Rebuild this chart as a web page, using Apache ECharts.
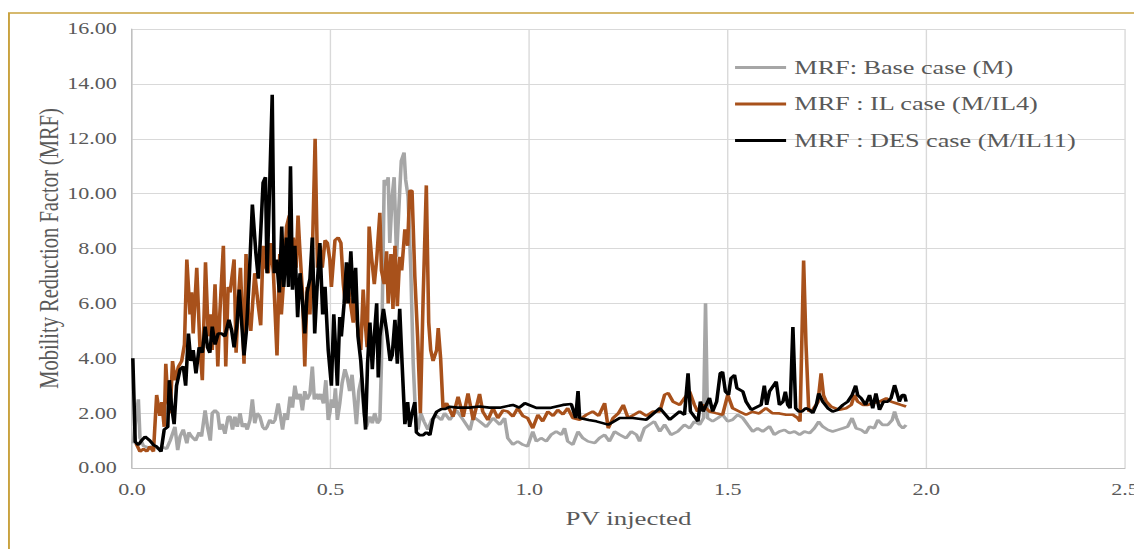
<!DOCTYPE html>
<html>
<head>
<meta charset="utf-8">
<script src="https://cdn.jsdelivr.net/npm/echarts@6/dist/echarts.min.js"></script>
<style>
  html, body { margin: 0; padding: 0; background: #fff; overflow: hidden; }
  /* the original picture is an office chart stretched sideways, so draw it narrow and widen it */
  #chart { width: 822px; height: 549px; transform: scaleX(1.3796); transform-origin: 0 0; }
</style>
</head>
<body>
<div id="chart"></div>
<script>
const seriesNames = ['MRF: Base case (M)', 'MRF : IL case (M/IL4)', 'MRF : DES case (M/IL11)']
const xTicks = ['0.0', '0.5', '1.0', '1.5', '2.0', '2.5']
const yTicks = ['0.00', '2.00', '4.00', '6.00', '8.00', '10.00', '12.00', '14.00', '16.00']

// base case (grey)
const baseX = [0.003, 0.009, 0.016, 0.020, 0.029, 0.041, 0.054, 0.066, 0.079, 0.087, 0.096, 0.108, 0.115, 0.121, 0.129, 0.138, 0.143, 0.150, 0.160, 0.169,
  0.175, 0.184, 0.190, 0.197, 0.202, 0.209, 0.216, 0.221, 0.227, 0.234, 0.242, 0.247, 0.253, 0.259, 0.265, 0.272, 0.278, 0.284, 0.290, 0.297,
  0.303, 0.309, 0.315, 0.322, 0.329, 0.335, 0.340, 0.347, 0.354, 0.360, 0.368, 0.374, 0.379, 0.385, 0.391, 0.398, 0.404, 0.410, 0.416, 0.423,
  0.429, 0.435, 0.441, 0.448, 0.454, 0.459, 0.465, 0.470, 0.475, 0.482, 0.488, 0.494, 0.498, 0.502, 0.508, 0.512, 0.517, 0.523, 0.529, 0.536,
  0.542, 0.548, 0.554, 0.559, 0.565, 0.571, 0.578, 0.584, 0.590, 0.599, 0.605, 0.611, 0.618, 0.624, 0.628, 0.635, 0.641, 0.645, 0.649, 0.655,
  0.660, 0.666, 0.674, 0.678, 0.685, 0.689, 0.695, 0.702, 0.708, 0.714, 0.720, 0.727, 0.735, 0.745, 0.754, 0.767, 0.779, 0.787, 0.800, 0.817,
  0.834, 0.851, 0.859, 0.875, 0.892, 0.909, 0.926, 0.938, 0.946, 0.959, 0.971, 0.984, 0.996, 1.009, 1.018, 1.030, 1.043, 1.055, 1.068, 1.081,
  1.089, 1.097, 1.110, 1.123, 1.135, 1.148, 1.165, 1.177, 1.190, 1.202, 1.215, 1.228, 1.244, 1.257, 1.270, 1.278, 1.290, 1.303, 1.315, 1.329,
  1.341, 1.357, 1.374, 1.391, 1.404, 1.416, 1.429, 1.439, 1.444, 1.449, 1.462, 1.475, 1.487, 1.500, 1.512, 1.525, 1.538, 1.550, 1.563, 1.575,
  1.588, 1.605, 1.617, 1.630, 1.643, 1.655, 1.668, 1.681, 1.693, 1.706, 1.718, 1.729, 1.739, 1.752, 1.764, 1.777, 1.790, 1.802, 1.813, 1.823,
  1.836, 1.847, 1.857, 1.869, 1.878, 1.890, 1.903, 1.914, 1.920, 1.925, 1.932, 1.941, 1.949]
const baseY = [0.9, 1.7, 2.5, 1.1, 0.8, 0.75, 0.8, 0.7, 0.75, 0.7, 1.0, 1.5, 0.65, 1.15, 1.4, 0.9, 1.3, 1.15, 1.0, 1.3,
  1.15, 2.1, 1.5, 1.0, 2.0, 2.1, 2.0, 1.4, 1.6, 1.25, 1.87, 1.87, 1.4, 1.87, 1.5, 2.0, 1.5, 1.63, 1.4, 1.75,
  2.5, 1.63, 2.0, 1.87, 1.5, 1.4, 1.5, 1.75, 1.63, 1.75, 2.35, 1.87, 1.4, 2.0, 1.75, 2.6, 2.2, 3.0, 2.5, 2.7,
  2.1, 2.8, 2.5, 2.7, 3.7, 2.5, 2.7, 2.5, 2.7, 2.35, 3.2, 1.75, 2.0, 2.5, 2.2, 2.9, 1.75, 2.35, 3.1, 3.6,
  3.3, 2.8, 3.4, 2.6, 1.6, 2.8, 3.3, 2.0, 1.5, 1.87, 1.63, 2.0, 1.63, 1.75, 3.8, 10.5, 10.3, 10.6, 8.2, 9.9,
  10.6, 7.7, 10.1, 11.2, 11.5, 10.5, 9.9, 7.2, 3.8, 1.9, 1.4, 2.0, 1.7, 1.4, 1.75, 1.9, 1.75, 2.0, 1.75, 2.1,
  1.75, 1.38, 1.87, 1.7, 1.5, 1.82, 1.58, 1.82, 1.09, 0.85, 0.97, 0.85, 0.79, 1.33, 0.97, 1.09, 0.97, 1.21, 1.33, 1.21,
  1.45, 0.97, 0.85, 1.33, 1.09, 0.97, 0.91, 1.09, 1.21, 0.97, 1.33, 1.21, 1.09, 1.33, 1.21, 0.97, 1.45, 1.58, 1.7, 1.33,
  1.58, 1.21, 1.33, 1.58, 1.45, 1.7, 1.58, 1.82, 6.0, 1.82, 1.7, 1.82, 1.94, 1.7, 1.76, 1.94, 1.82, 1.58, 1.33, 1.45,
  1.33, 1.52, 1.21, 1.33, 1.39, 1.27, 1.33, 1.21, 1.33, 1.27, 1.45, 1.69, 1.51, 1.39, 1.33, 1.39, 1.45, 1.51, 1.82, 1.45,
  1.39, 1.27, 1.51, 1.45, 1.75, 1.57, 1.57, 1.75, 2.06, 1.82, 1.57, 1.45, 1.57]

// IL case (orange)
const ilX = [0.010, 0.020, 0.029, 0.037, 0.045, 0.054, 0.062, 0.070, 0.075, 0.081, 0.085, 0.090, 0.096, 0.102, 0.108, 0.117, 0.125, 0.132, 0.138, 0.146,
  0.150, 0.154, 0.163, 0.171, 0.177, 0.185, 0.192, 0.197, 0.202, 0.209, 0.216, 0.221, 0.230, 0.236, 0.242, 0.247, 0.257, 0.262, 0.268, 0.273,
  0.282, 0.287, 0.293, 0.299, 0.309, 0.318, 0.324, 0.330, 0.337, 0.343, 0.349, 0.356, 0.365, 0.372, 0.376, 0.382, 0.389, 0.396, 0.400, 0.406,
  0.413, 0.418, 0.422, 0.429, 0.435, 0.441, 0.448, 0.454, 0.461, 0.467, 0.473, 0.479, 0.486, 0.492, 0.498, 0.502, 0.511, 0.519, 0.526, 0.532,
  0.537, 0.544, 0.548, 0.557, 0.561, 0.569, 0.576, 0.582, 0.586, 0.592, 0.597, 0.603, 0.610, 0.616, 0.624, 0.628, 0.635, 0.641, 0.645, 0.652,
  0.657, 0.662, 0.668, 0.674, 0.679, 0.687, 0.694, 0.699, 0.705, 0.712, 0.719, 0.726, 0.733, 0.741, 0.747, 0.752, 0.758, 0.767, 0.771, 0.777,
  0.783, 0.792, 0.808, 0.821, 0.834, 0.846, 0.859, 0.875, 0.883, 0.896, 0.909, 0.921, 0.934, 0.946, 0.959, 0.971, 0.984, 0.996, 1.009, 1.022,
  1.034, 1.047, 1.060, 1.072, 1.085, 1.097, 1.110, 1.127, 1.144, 1.160, 1.175, 1.190, 1.199, 1.211, 1.225, 1.237, 1.249, 1.265, 1.278, 1.295,
  1.312, 1.329, 1.341, 1.350, 1.362, 1.379, 1.391, 1.404, 1.416, 1.424, 1.437, 1.454, 1.470, 1.487, 1.500, 1.512, 1.529, 1.546, 1.562, 1.579,
  1.596, 1.612, 1.630, 1.647, 1.664, 1.676, 1.682, 1.691, 1.697, 1.704, 1.714, 1.727, 1.735, 1.741, 1.748, 1.760, 1.781, 1.798, 1.811, 1.819,
  1.827, 1.840, 1.853, 1.865, 1.882, 1.899, 1.911, 1.924, 1.936, 1.949]
const ilY = [0.9, 0.6, 0.7, 0.6, 0.78, 0.6, 2.66, 1.9, 2.4, 1.5, 3.8, 2.5, 2.0, 3.9, 3.2, 3.7, 3.9, 4.5, 7.6, 5.6,
  6.4, 4.9, 7.3, 4.4, 3.2, 7.5, 4.8, 5.6, 4.3, 6.7, 3.7, 5.6, 8.1, 3.7, 6.6, 6.4, 7.6, 4.2, 6.2, 7.3,
  3.8, 7.8, 5.6, 5.0, 7.1, 5.9, 5.2, 8.1, 7.3, 7.1, 8.2, 7.1, 4.1, 7.8, 5.6, 6.9, 8.8, 9.2, 7.6, 8.4,
  7.3, 9.2, 8.1, 6.4, 3.7, 6.6, 5.6, 7.8, 12.0, 7.3, 8.1, 7.3, 8.3, 8.2, 7.6, 6.6, 8.3, 8.4, 8.2, 6.7,
  6.0, 6.7, 6.2, 5.3, 6.4, 5.0, 4.3, 6.5, 5.5, 4.4, 8.8, 7.7, 6.7, 7.6, 9.3, 7.2, 6.7, 7.9, 6.0, 7.8,
  5.8, 8.1, 5.9, 7.7, 7.2, 8.7, 8.1, 10.1, 10.1, 7.0, 4.8, 2.0, 6.2, 10.3, 5.3, 4.3, 3.9, 4.3, 5.1, 4.0,
  2.2, 2.36, 1.87, 2.6, 1.87, 2.72, 1.75, 2.7, 2.06, 1.75, 2.18, 1.82, 2.1, 2.06, 1.88, 2.18, 1.9, 1.82, 1.45, 1.94,
  1.7, 2.06, 1.9, 2.12, 1.95, 2.18, 1.82, 1.76, 1.94, 2.06, 1.9, 2.36, 1.45, 1.82, 2.0, 2.3, 1.82, 1.95, 2.06, 1.9,
  2.06, 2.06, 2.67, 2.73, 2.42, 2.3, 2.55, 2.79, 2.3, 2.06, 2.3, 2.06, 2.0, 1.94, 2.67, 2.18, 2.06, 1.94, 2.05, 1.99,
  2.18, 2.0, 1.99, 1.94, 1.94, 1.82, 1.7, 7.56, 4.5, 2.06, 2.12, 2.4, 3.45, 2.66, 2.42, 2.24, 2.12, 2.18, 2.3, 2.66,
  2.42, 2.3, 2.3, 2.36, 2.42, 2.54, 2.42, 2.36, 2.3, 2.24]

// DES case (black)
const desX = [0.002, 0.008, 0.016, 0.024, 0.033, 0.045, 0.054, 0.062, 0.073, 0.081, 0.090, 0.094, 0.100, 0.106, 0.112, 0.121, 0.129, 0.135, 0.142, 0.148,
  0.154, 0.161, 0.169, 0.177, 0.184, 0.190, 0.196, 0.202, 0.209, 0.217, 0.226, 0.234, 0.244, 0.251, 0.257, 0.264, 0.270, 0.276, 0.282, 0.288,
  0.295, 0.303, 0.312, 0.318, 0.324, 0.330, 0.336, 0.340, 0.347, 0.353, 0.358, 0.364, 0.371, 0.377, 0.382, 0.389, 0.394, 0.399, 0.404, 0.410,
  0.417, 0.423, 0.429, 0.435, 0.441, 0.448, 0.454, 0.460, 0.466, 0.473, 0.480, 0.486, 0.494, 0.502, 0.508, 0.513, 0.517, 0.523, 0.527, 0.534,
  0.540, 0.544, 0.551, 0.557, 0.563, 0.569, 0.576, 0.582, 0.588, 0.593, 0.599, 0.605, 0.610, 0.616, 0.620, 0.624, 0.633, 0.641, 0.650, 0.655,
  0.662, 0.668, 0.674, 0.680, 0.687, 0.694, 0.699, 0.705, 0.712, 0.716, 0.724, 0.733, 0.741, 0.750, 0.758, 0.767, 0.779, 0.787, 0.800, 0.820,
  0.850, 0.875, 0.900, 0.926, 0.959, 0.975, 0.989, 1.018, 1.052, 1.085, 1.106, 1.117, 1.123, 1.127, 1.150, 1.169, 1.199, 1.228, 1.261, 1.295,
  1.329, 1.354, 1.379, 1.391, 1.400, 1.406, 1.425, 1.431, 1.438, 1.454, 1.462, 1.472, 1.481, 1.487, 1.494, 1.502, 1.508, 1.517, 1.523, 1.538,
  1.546, 1.559, 1.584, 1.592, 1.598, 1.605, 1.622, 1.630, 1.639, 1.645, 1.651, 1.657, 1.664, 1.671, 1.679, 1.687, 1.696, 1.706, 1.714, 1.723,
  1.729, 1.739, 1.752, 1.764, 1.777, 1.790, 1.802, 1.813, 1.822, 1.827, 1.836, 1.847, 1.857, 1.865, 1.873, 1.882, 1.892, 1.903, 1.911, 1.920,
  1.925, 1.932, 1.939, 1.945, 1.949]
const desY = [4.0, 0.96, 0.84, 1.0, 1.14, 1.0, 0.84, 0.78, 0.6, 1.4, 1.5, 3.2, 2.2, 1.6, 3.0, 3.6, 3.7, 3.0, 4.9, 3.9,
  4.3, 3.45, 4.4, 4.2, 5.15, 4.4, 4.2, 5.15, 4.5, 4.9, 4.9, 4.8, 5.4, 5.0, 4.4, 5.2, 6.5, 5.3, 4.1, 5.0,
  6.9, 9.6, 7.8, 6.9, 8.6, 10.4, 10.6, 7.1, 10.5, 13.6, 7.1, 7.6, 6.4, 8.8, 6.6, 8.4, 6.6, 11.0, 6.5, 8.1,
  5.5, 7.1, 6.1, 4.9, 6.4, 6.9, 8.4, 4.9, 6.6, 8.2, 5.6, 6.6, 4.3, 3.0, 5.6, 4.2, 3.0, 5.5, 4.8, 6.0,
  7.5, 6.0, 7.9, 6.0, 7.3, 4.8, 3.9, 2.6, 1.4, 3.8, 5.3, 3.6, 4.8, 6.0, 3.3, 4.8, 5.8, 5.0, 3.9, 4.1,
  5.4, 3.8, 5.8, 3.8, 1.6, 2.4, 1.5, 2.0, 2.4, 1.3, 1.2, 1.2, 1.3, 1.2, 1.8, 2.05, 2.15, 2.15, 2.23, 2.2,
  2.2, 2.24, 2.2, 2.2, 2.3, 2.2, 2.36, 2.19, 2.19, 2.3, 2.33, 1.82, 2.8, 1.82, 1.75, 1.7, 1.58, 1.82, 1.82, 1.76,
  2.18, 1.76, 2.06, 1.94, 3.45, 2.06, 1.7, 2.42, 2.06, 2.55, 2.06, 2.42, 3.45, 3.5, 2.79, 2.67, 3.27, 3.39, 2.91, 2.79,
  2.42, 2.12, 2.3, 3.0, 2.3, 2.79, 3.15, 2.3, 2.42, 2.78, 2.3, 2.18, 5.14, 2.18, 2.06, 2.06, 2.18, 2.12, 2.0, 2.3,
  2.72, 2.42, 2.18, 2.06, 2.12, 2.3, 2.42, 2.66, 3.0, 2.66, 2.54, 2.3, 2.66, 2.18, 2.72, 2.12, 2.42, 2.42, 2.54, 3.02,
  2.78, 2.42, 2.66, 2.66, 2.42]

const colors = ['#a6a6a6', '#a8511b', '#000000']
const pairs = (xs, ys) => xs.map((x, i) => [x, ys[i]])
const seriesData = [pairs(baseX, baseY), pairs(ilX, ilY), pairs(desX, desY)]

const font = '"Liberation Serif", "DejaVu Serif", serif'
const chart = echarts.init(document.getElementById('chart'), null, { renderer: 'svg' })
const option = {
  animation: false,
  backgroundColor: '#ffffff',
  color: colors,
  graphic: [{
    type: 'rect',
    shape: { x: 6.5, y: 13, width: 900, height: 600 },
    style: { fill: 'none', stroke: '#c9a23f', lineWidth: 1.4 },
    silent: true
  }],
  grid: {
    left: 95.7,
    right: 6.6,
    top: 29,
    bottom: 81,
    outerBoundsMode: 'none'
  },
  legend: {
    orient: 'vertical',
    left: 532.8,
    top: 58,
    padding: 0,
    itemWidth: 37,
    itemHeight: 3,
    itemGap: 17.5,
    icon: 'rect',
    textStyle: { fontFamily: font, fontSize: 19, color: '#595959', padding: [0, 0, 0, 1] },
    data: seriesNames
  },
  xAxis: {
    type: 'value',
    min: 0,
    max: 2.5,
    interval: 0.5,
    name: 'PV injected',
    nameLocation: 'middle',
    nameGap: 40,
    nameTextStyle: { fontFamily: font, fontSize: 19.5, color: '#595959' },
    axisLine: { show: true, lineStyle: { color: '#bfbfbf', width: 1 } },
    axisTick: { show: false },
    axisLabel: {
      margin: 14,
      fontFamily: font,
      fontSize: 16,
      color: '#595959',
      formatter: (v) => xTicks[Math.round(v / 0.5)]
    },
    splitLine: { show: true, lineStyle: { color: '#d9d9d9', width: 1 } }
  },
  yAxis: {
    type: 'value',
    min: 0,
    max: 16,
    interval: 2,
    name: 'Mobility Reduction Factor (MRF)',
    nameLocation: 'middle',
    nameGap: 50,
    nameMoveOverlap: false,
    nameTextStyle: { fontFamily: font, fontSize: 20.5, color: '#595959' },
    axisLine: { show: true, lineStyle: { color: '#bfbfbf', width: 1 } },
    axisTick: { show: false },
    axisLabel: {
      margin: 11,
      fontFamily: font,
      fontSize: 16,
      color: '#595959',
      formatter: (v) => yTicks[Math.round(v / 2)]
    },
    splitLine: { show: true, lineStyle: { color: '#d9d9d9', width: 1 } }
  },
  series: seriesNames.map((name, i) => ({
    name: name,
    type: 'line',
    showSymbol: false,
    symbol: 'none',
    lineStyle: { width: 2.6, color: colors[i] },
    itemStyle: { color: colors[i] },
    data: seriesData[i]
  }))
}
chart.setOption(option)
</script>
</body>
</html>
